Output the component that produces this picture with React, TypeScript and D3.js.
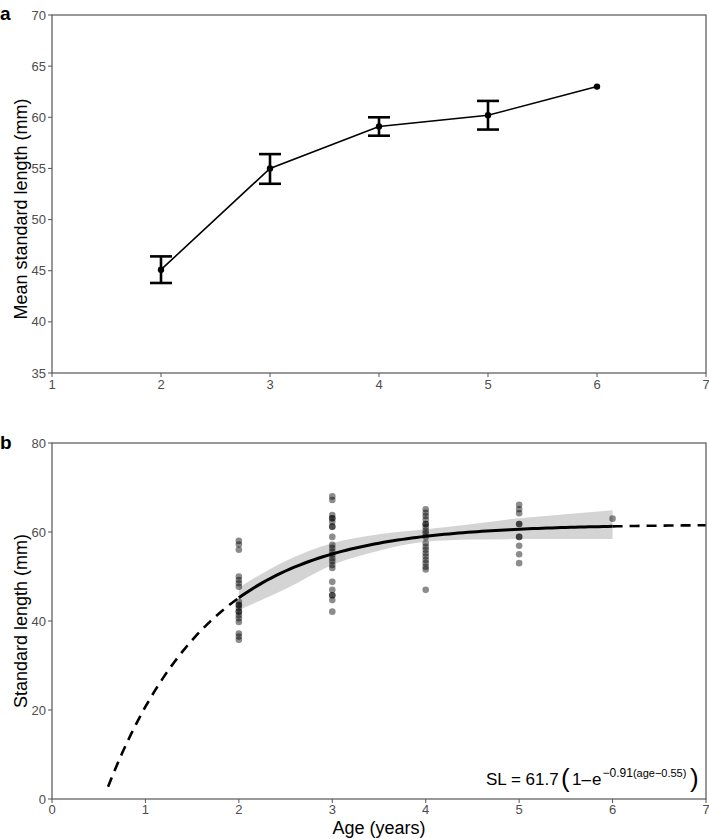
import React from "react";
import * as d3 from "d3";

// Panel a data
const ageA = [2, 3, 4, 5, 6];
const meanSL = [45.1, 55.0, 59.1, 60.2, 63.0];
const errLow = [43.8, 53.5, 58.2, 58.8, null];
const errHigh = [46.4, 56.4, 60.0, 61.6, null];
const ticksA_x = [1, 2, 3, 4, 5, 6, 7];
const ticksA_y = [35, 40, 45, 50, 55, 60, 65, 70];

// Panel b data: individual fish
const age2 = [58, 57.2, 56, 50, 49.2, 48.5, 47.7, 44.3, 43.6, 43.6, 42.9, 42.1, 42.1, 41.3, 40.6, 39.8, 37.2, 36.5, 35.8];
const age3 = [68, 67.2, 63.8, 63.1, 63.1, 62.3, 61.2, 61.2, 58.9, 57.1, 56.4, 55.6, 54.9, 54.1, 53.4, 52.6, 51.9, 48.8, 47, 45.8, 45.8, 44.7, 42.1];
const age4 = [65.1, 64.3, 63.6, 62.8, 61.8, 61.8, 61.1, 60.3, 59.7, 58.9, 57.5, 56.7, 56, 55.2, 54.5, 53.7, 53, 52.2, 51.6, 47];
const age5 = [66.1, 65.1, 64.2, 61.8, 61.8, 58.9, 58.9, 56.9, 55, 53];
const age6 = [63];
const bandAge = [2, 2.5, 3, 3.5, 4, 4.5, 5, 5.5, 6];
const bandLow = [42.5, 47.2, 52.6, 55.8, 57.8, 58.3, 58.4, 58.4, 58.4];
const bandHigh = [47.5, 53.5, 57.5, 59.5, 60.6, 61.8, 63.1, 64.0, 64.9];
const Linf = 61.7;
const K = 0.91;
const t0 = 0.55;
const ticksB_x = [0, 1, 2, 3, 4, 5, 6, 7];
const ticksB_y = [0, 20, 40, 60, 80];

const FONT = "'Liberation Sans', Arial, Helvetica, sans-serif";
const TICK = "#4d4d4d";
const FRAME = "#555";

export default function App() {
  const xA = d3.scaleLinear().domain([1, 7]).range([52, 706]);
  const yA = d3.scaleLinear().domain([35, 70]).range([373, 15]);
  const xB = d3.scaleLinear().domain([0, 7]).range([52, 706]);
  const yB = d3.scaleLinear().domain([0, 80]).range([799, 443]);

  const lineA = d3.line<number>().x((_, i) => xA(ageA[i])).y((d) => yA(d));

  const vb = (a: number) => Linf * (1 - Math.exp(-K * (a - t0)));
  const curve = d3.line<number>().x((a) => xB(a)).y((a) => yB(vb(a)));
  const solidAges = d3.range(2, 6.0001, 0.05);
  const dashL = d3.range(0.6, 2.0001, 0.05);
  const dashR = d3.range(6, 7.0001, 0.05);

  const area = d3
    .area<number>()
    .x((a) => xB(a))
    .y0((_, i) => yB(bandLow[i]))
    .y1((_, i) => yB(bandHigh[i]))
    .curve(d3.curveMonotoneX);

  const pts: { a: number; v: number }[] = [];
  [[2, age2], [3, age3], [4, age4], [5, age5], [6, age6]].forEach(([a, arr]: any) =>
    arr.forEach((v: number) => pts.push({ a, v }))
  );

  return (
    <svg width={709} height={839} style={{ display: "block", position: "absolute", left: 0, top: 0 }} fontFamily={FONT}>
      <rect width={709} height={839} fill="#fff" />
      {/* Panel a */}
      <text x={0} y={20} fontSize={19} fontWeight="bold">a</text>
      <rect x={52} y={15} width={654} height={358} fill="none" stroke={FRAME} strokeWidth={1.2} />
      {ticksA_y.map((t) => (
        <g key={"ay" + t}>
          <line x1={48} x2={52} y1={yA(t)} y2={yA(t)} stroke={FRAME} />
          <text x={46} y={yA(t) + 4.5} fontSize={13} fill={TICK} textAnchor="end">{t}</text>
        </g>
      ))}
      {ticksA_x.map((t) => (
        <g key={"ax" + t}>
          <line x1={xA(t)} x2={xA(t)} y1={373} y2={377} stroke={FRAME} />
          <text x={xA(t)} y={389} fontSize={13} fill={TICK} textAnchor="middle">{t}</text>
        </g>
      ))}
      <text transform={`translate(27,209) rotate(-90)`} fontSize={18} textAnchor="middle">Mean standard length (mm)</text>
      <path d={lineA(meanSL) || ""} fill="none" stroke="#000" strokeWidth={1.6} />
      {ageA.map((a, i) =>
        errLow[i] != null ? (
          <g key={"eb" + a} stroke="#000" strokeWidth={2.6}>
            <line x1={xA(a)} x2={xA(a)} y1={yA(errLow[i] as number)} y2={yA(errHigh[i] as number)} />
            <line x1={xA(a) - 11} x2={xA(a) + 11} y1={yA(errLow[i] as number)} y2={yA(errLow[i] as number)} />
            <line x1={xA(a) - 11} x2={xA(a) + 11} y1={yA(errHigh[i] as number)} y2={yA(errHigh[i] as number)} />
          </g>
        ) : null
      )}
      {ageA.map((a, i) => (
        <circle key={"pa" + a} cx={xA(a)} cy={yA(meanSL[i])} r={3.2} fill="#000" />
      ))}

      {/* Panel b */}
      <text x={0} y={449} fontSize={19} fontWeight="bold">b</text>
      <path d={area(bandAge) || ""} fill="#d4d4d4" />
      {pts.map((p, i) => (
        <circle key={"pb" + i} cx={xB(p.a)} cy={yB(p.v)} r={3.3} fill="#000" fillOpacity={0.45} />
      ))}
      <path d={curve(solidAges) || ""} fill="none" stroke="#000" strokeWidth={3} />
      <path d={curve(dashL) || ""} fill="none" stroke="#000" strokeWidth={2.6} strokeDasharray="10,7" />
      <path d={curve(dashR) || ""} fill="none" stroke="#000" strokeWidth={2.6} strokeDasharray="10,7" />
      <rect x={52} y={443} width={654} height={356} fill="none" stroke={FRAME} strokeWidth={1.2} />
      {ticksB_y.map((t) => (
        <g key={"by" + t}>
          <line x1={48} x2={52} y1={yB(t)} y2={yB(t)} stroke={FRAME} />
          <text x={46} y={yB(t) + 4.5} fontSize={13} fill={TICK} textAnchor="end">{t}</text>
        </g>
      ))}
      {ticksB_x.map((t) => (
        <g key={"bx" + t}>
          <line x1={xB(t)} x2={xB(t)} y1={799} y2={803} stroke={FRAME} />
          <text x={xB(t)} y={814} fontSize={13} fill={TICK} textAnchor="middle">{t}</text>
        </g>
      ))}
      <text transform={`translate(27,${yB(40)}) rotate(-90)`} fontSize={18} textAnchor="middle">Standard length (mm)</text>
      <text x={379} y={834} fontSize={18} textAnchor="middle">Age (years)</text>

      {/* Equation */}
      <text x={486} y={785} fontSize={17}>SL = 61.7</text>
      <text x={561} y={787} fontSize={26}>(</text>
      <text x={572} y={785} fontSize={17}>1</text>
      <text x={581.5} y={785} fontSize={17}>–</text>
      <text x={592} y={785} fontSize={17}>e</text>
      <text x={602.5} y={777} fontSize={12}>−0.91<tspan fontSize={11}>(age−0.55)</tspan></text>
      <text x={690} y={787} fontSize={26}>)</text>
    </svg>
  );
}
